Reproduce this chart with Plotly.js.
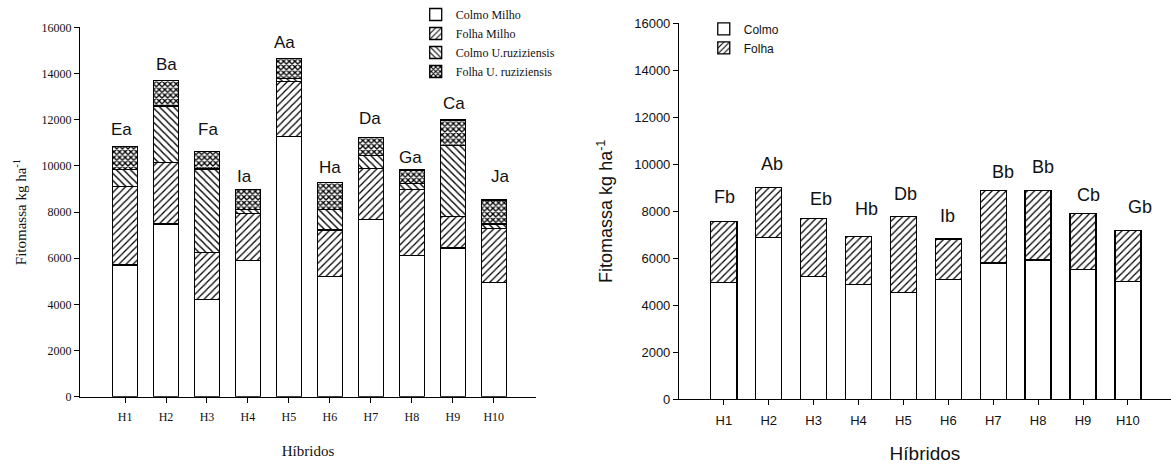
<!DOCTYPE html>
<html>
<head>
<meta charset="utf-8">
<script src="https://cdn.plot.ly/plotly-3.0.1.min.js"></script>
<style>
  html, body { margin: 0; padding: 0; background: #fff; }
  #chart { width: 1171px; height: 464px; }
</style>
</head>
<body>
<div id="chart"></div>
<script>
// Hybrids on the x axis of both panels
const hibridos = ['H1', 'H2', 'H3', 'H4', 'H5', 'H6', 'H7', 'H8', 'H9', 'H10'];

// Left panel: maize + U. ruziziensis phytomass components (kg/ha)
const colmoMilho = [5700, 7480, 4220, 5910, 11260, 5200, 7680, 6110, 6440, 4940];
const folhaMilho = [3400, 2660, 2030, 2030, 2400, 2020, 2210, 2870, 1360, 2340];
const colmoRuzi  = [750, 2450, 3610, 180, 120, 900, 560, 260, 3070, 200];
const folhaRuzi  = [1000, 1100, 750, 860, 860, 1150, 770, 580, 1120, 1040];
const letrasEsq  = ['Ea', 'Ba', 'Fa', 'Ia', 'Aa', 'Ha', 'Da', 'Ga', 'Ca', 'Ja'];

// Right panel: stalk and leaf phytomass (kg/ha)
const colmo = [4960, 6880, 5210, 4870, 4550, 5090, 5800, 5930, 5520, 5020];
const folha = [2590, 2140, 2490, 2070, 3220, 1730, 3090, 2960, 2380, 2170];
const letrasDir = ['Fb', 'Ab', 'Eb', 'Hb', 'Db', 'Ib', 'Bb', 'Bb', 'Cb', 'Gb'];

// Label nudges in pixels (dx, dy above bar top)
const dxEsq = [-4, 0, 1, -3, -4, 0, -1, -1, 1, 7];
const dyEsq = [17, 16, 22, 13, 16, 15, 19, 13, 16, 24];
const dxDir = [1, 3, 7, 8, 2, -1, 10, 5, 5, 12];
const dyDir = [25, 23, 19, 27, 23, 23, 18, 23, 19, 23];

const SERIF = 'Liberation Serif, Times New Roman, serif';
const SANS = 'Liberation Sans, Arial, sans-serif';
const edge = { color: '#000', width: 1.3 };

function sumCols(...arrs) {
  return arrs[0].map((_, i) => arrs.reduce((s, a) => s + a[i], 0));
}

function barTrace(name, y, axis, pattern, legend, w) {
  return {
    type: 'bar', name: name, x: hibridos, y: y,
    xaxis: axis[0], yaxis: axis[1], width: w,
    legend: legend,
    marker: {
      color: '#fff',
      line: edge,
      pattern: pattern
    },
    hoverinfo: 'name+y'
  };
}

const diag = { shape: '/', fgcolor: '#000', bgcolor: '#fff', size: 5, solidity: 0.25 };
const back = { shape: '\\', fgcolor: '#000', bgcolor: '#fff', size: 5, solidity: 0.28 };
const dots = { shape: 'x', fgcolor: '#000', bgcolor: '#fff', size: 4, solidity: 0.55 };
const none = { shape: '' };

const traces = [
  barTrace('Colmo Milho', colmoMilho, ['x', 'y'], none, 'legend', 0.61),
  barTrace('Folha Milho', folhaMilho, ['x', 'y'], diag, 'legend', 0.61),
  barTrace('Colmo U.ruziziensis', colmoRuzi, ['x', 'y'], back, 'legend', 0.61),
  barTrace('Folha U. ruziziensis', folhaRuzi, ['x', 'y'], dots, 'legend', 0.61),
  barTrace('Colmo', colmo, ['x2', 'y2'], none, 'legend2', 0.58),
  barTrace('Folha', folha, ['x2', 'y2'], diag, 'legend2', 0.58)
];

const totEsq = sumCols(colmoMilho, folhaMilho, colmoRuzi, folhaRuzi);
const totDir = sumCols(colmo, folha);

const annotations = [];
hibridos.forEach((h, i) => {
  annotations.push({
    xref: 'x', yref: 'y', x: h, y: totEsq[i], text: letrasEsq[i],
    showarrow: false, yanchor: 'middle', xshift: dxEsq[i], yshift: dyEsq[i],
    font: { family: SANS, size: 17, color: '#111' }
  });
  annotations.push({
    xref: 'x2', yref: 'y2', x: h, y: totDir[i], text: letrasDir[i],
    showarrow: false, yanchor: 'middle', xshift: dxDir[i], yshift: dyDir[i],
    font: { family: SANS, size: 18, color: '#111' }
  });
});

const axBase = {
  showgrid: false, zeroline: false, showline: true, linecolor: '#000', linewidth: 1,
  ticks: 'outside', ticklen: 5, tickcolor: '#000', tickwidth: 1
};

const layout = {
  width: 1171, height: 464,
  margin: { l: 0, r: 0, t: 0, b: 0 },
  paper_bgcolor: '#fff', plot_bgcolor: '#fff',
  barmode: 'stack',
  showlegend: true,
  xaxis: Object.assign({}, axBase, {
    domain: [0.0683, 0.4577], anchor: 'y',
    type: 'category', range: [-1.1, 10.03], ticklabelstandoff: 4,
    tickfont: { family: SERIF, size: 12, color: '#111' },
    title: { text: 'Híbridos', font: { family: SERIF, size: 15, color: '#111' }, standoff: 22 }
  }),
  yaxis: Object.assign({}, axBase, {
    domain: [0.145, 0.941], anchor: 'x',
    range: [0, 16000], dtick: 2000, tickformat: 'd',
    tickfont: { family: SERIF, size: 12, color: '#111' },
    title: { text: 'Fitomassa kg ha<sup>-1</sup>', font: { family: SERIF, size: 15, color: '#111' }, standoff: 11 }
  }),
  xaxis2: Object.assign({}, axBase, {
    domain: [0.5798, 1], anchor: 'y2',
    type: 'category', range: [-1.0, 9.96], ticklabelstandoff: 4,
    tickfont: { family: SANS, size: 13, color: '#111' },
    title: { text: 'Híbridos', font: { family: SANS, size: 19, color: '#111' }, standoff: 20 }
  }),
  yaxis2: Object.assign({}, axBase, {
    domain: [0.1394, 0.950], anchor: 'x2',
    range: [0, 16000], dtick: 2000, tickformat: 'd',
    tickfont: { family: SANS, size: 13, color: '#111' },
    title: { text: 'Fitomassa kg ha<sup>-1</sup>', font: { family: SANS, size: 18, color: '#111' }, standoff: 16 }
  }),
  legend: {
    x: 0.355, y: 1.0, xanchor: 'left', yanchor: 'top',
    bgcolor: 'rgba(0,0,0,0)', tracegroupgap: 0, traceorder: 'normal',
    font: { family: SERIF, size: 12, color: '#111' }
  },
  legend2: {
    x: 0.601, y: 0.969, xanchor: 'left', yanchor: 'top',
    bgcolor: 'rgba(0,0,0,0)', tracegroupgap: 0, traceorder: 'normal',
    font: { family: SANS, size: 12, color: '#111' }
  },
  annotations: annotations
};

Plotly.newPlot('chart', traces, layout, { staticPlot: true, displayModeBar: false });
</script>
</body>
</html>
